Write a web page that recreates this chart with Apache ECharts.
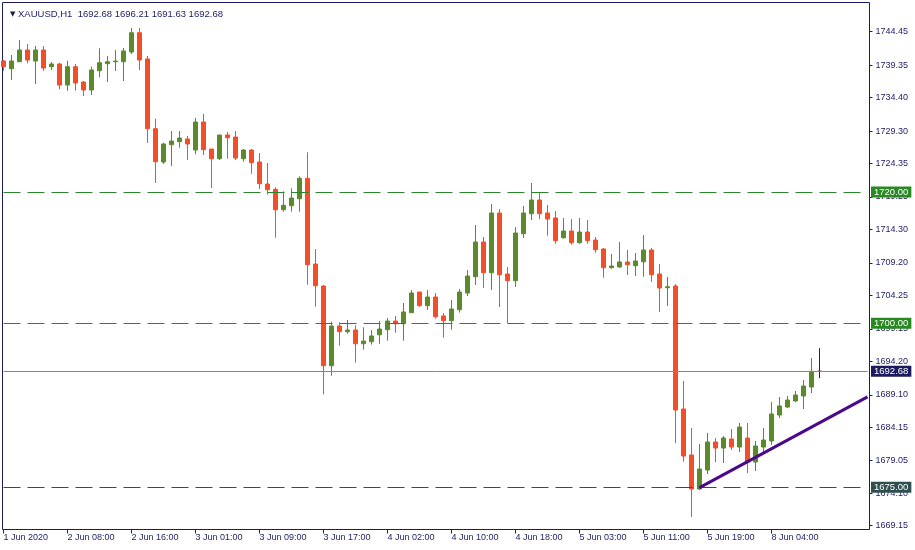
<!DOCTYPE html>
<html><head><meta charset="utf-8">
<script src="https://cdn.jsdelivr.net/npm/echarts@6/dist/echarts.min.js"></script>
<style>html,body{margin:0;padding:0;background:#fff}#c{width:915px;height:550px}</style>
</head><body><div id="c"></div>
<script>
// X axis tick labels (one every 8 hourly bars)
const tickLabels = ['1 Jun 2020','2 Jun 08:00','2 Jun 16:00','3 Jun 01:00','3 Jun 09:00','3 Jun 17:00','4 Jun 02:00','4 Jun 10:00','4 Jun 18:00','5 Jun 03:00','5 Jun 11:00','5 Jun 19:00','8 Jun 04:00'];
const barsPerLabel = 8;
const slotCount = 109; // bar slots incl. chart shift on the right

const opens = [1739.98,1738.81,1739.87,1741.66,1739.98,1741.66,1739.11,1739.52,1736.32,1739.11,
1736.78,1735.56,1738.50,1739.57,1739.87,1739.87,1741.35,1744.29,1740.29,1729.66,
1724.58,1727.22,1727.68,1728.09,1726.41,1730.68,1726.56,1725.09,1728.70,1728.39,
1725.09,1726.41,1724.58,1721.23,1720.42,1717.31,1717.92,1718.99,1722.10,1709.03,
1705.68,1693.53,1699.58,1698.71,1698.97,1696.88,1697.19,1698.25,1699.02,1700.34,
1699.93,1701.61,1704.76,1702.68,1704.00,1701.11,1700.39,1702.07,1704.61,1707.10,
1712.39,1707.71,1716.81,1707.51,1706.49,1713.65,1716.70,1718.79,1716.81,1716.05,
1713.04,1714.06,1712.28,1713.91,1712.69,1711.32,1708.47,1708.58,1709.34,1708.77,
1709.38,1711.17,1707.51,1705.42,1705.68,1686.93,1679.92,1674.73,1677.63,1681.90,
1680.98,1682.35,1681.13,1682.51,1678.85,1681.13,1682.05,1686.01,1687.23,1688.15,
1688.91,1690.28,1692.68];
const closes = [1739.11,1739.98,1741.66,1740.13,1741.66,1738.91,1739.52,1736.32,1739.11,1736.63,
1735.56,1738.61,1739.72,1739.87,1739.98,1741.51,1744.29,1740.13,1729.66,1724.63,
1727.33,1727.78,1728.24,1727.33,1730.68,1726.46,1725.09,1728.70,1728.29,1725.19,
1726.41,1724.48,1721.28,1720.36,1717.31,1717.98,1719.09,1722.10,1708.93,1705.72,
1693.53,1699.58,1698.71,1698.97,1696.88,1697.29,1698.06,1699.12,1700.34,1699.93,
1701.72,1704.61,1702.68,1704.00,1701.00,1700.39,1702.17,1704.76,1707.20,1712.39,
1707.71,1716.81,1707.40,1706.49,1713.76,1716.81,1718.79,1716.70,1715.89,1712.59,
1714.06,1712.28,1713.91,1712.59,1711.21,1708.47,1708.73,1709.34,1708.93,1709.49,
1711.17,1707.40,1705.37,1705.57,1686.78,1679.76,1674.73,1677.78,1681.90,1680.98,
1682.51,1681.13,1684.18,1678.85,1681.29,1682.20,1686.17,1687.39,1688.30,1689.06,
1690.43,1692.68,1692.68];
const lows = [1738.50,1737.08,1739.83,1739.63,1736.47,1738.50,1738.61,1735.67,1735.45,1735.45,
1734.64,1734.80,1737.50,1736.78,1738.46,1736.93,1741.05,1738.61,1727.48,1721.38,
1724.28,1723.97,1726.76,1724.89,1725.76,1725.65,1720.62,1724.89,1725.09,1724.89,
1724.63,1722.80,1720.47,1719.60,1713.04,1717.01,1717.01,1717.01,1705.88,1702.52,
1689.17,1692.00,1696.58,1698.41,1693.99,1695.97,1696.73,1696.88,1697.34,1698.56,
1697.34,1701.61,1702.52,1702.02,1700.69,1697.80,1699.02,1701.61,1704.15,1705.83,
1705.37,1705.07,1702.48,1699.99,1705.53,1713.00,1715.74,1715.89,1713.35,1712.13,
1712.90,1711.98,1712.13,1712.13,1710.76,1706.94,1708.32,1708.47,1707.36,1707.20,
1707.10,1706.29,1701.72,1702.63,1681.74,1678.89,1670.46,1674.58,1677.02,1678.85,
1678.70,1680.68,1680.37,1677.17,1677.48,1680.37,1681.44,1685.56,1687.08,1688.00,
1686.93,1689.37,1691.63];
const highs = [1740.13,1740.90,1743.18,1742.57,1742.27,1742.27,1739.83,1739.72,1740.03,1739.52,
1736.93,1739.11,1741.92,1740.74,1741.66,1741.96,1745.01,1745.01,1740.74,1731.18,
1727.53,1729.31,1729.31,1728.55,1731.29,1731.90,1726.56,1728.70,1729.16,1729.31,
1726.56,1726.56,1725.96,1724.43,1720.73,1720.12,1720.57,1722.40,1726.06,1711.32,
1705.83,1700.24,1700.15,1700.50,1699.69,1699.38,1698.97,1700.34,1700.80,1701.11,
1703.09,1705.07,1704.76,1705.07,1704.61,1701.56,1703.54,1705.22,1708.12,1714.98,
1713.15,1718.18,1717.42,1708.58,1714.67,1717.88,1721.38,1720.01,1718.03,1717.11,
1716.05,1715.89,1716.05,1715.74,1713.15,1711.47,1710.56,1712.39,1711.17,1710.71,
1713.45,1711.47,1709.03,1707.05,1705.98,1691.20,1684.03,1681.59,1683.27,1682.51,
1682.81,1683.88,1684.79,1684.79,1682.05,1684.03,1688.00,1688.76,1688.91,1689.67,
1691.35,1694.70,1696.21];

const priceTicks = [1744.45,1739.35,1734.40,1729.30,1724.35,1719.25,1714.30,1709.20,1704.25,1699.15,1694.20,1689.10,1684.15,1679.05,1674.10,1669.15];
const levelGreen = [1720.00, 1700.00];
const levelSupport = 1675.00;
const bidPrice = 1692.68;
const trendStart = [87, 1674.95];
const trendEnd = [108, 1688.77];
const header = {symbol:'XAUUSD,H1', o:1692.68, h:1696.21, l:1691.63, c:1692.68};

const yMin = 1668.56, yMax = 1748.90;
const navy = '#1c1c66';
const font = '"Liberation Sans", Arial, sans-serif';
const upColor = '#5a8a2b', downColor = '#f24e27';
const lineGreen = '#2a852a', boxGreen = '#2a8a22', slate = '#2f4f4f';

const slots = Array.from({length: slotCount}, (_, i) => String(i));
const candleData = opens.map((o, i) => {
  const item = {value: [o, closes[i], lows[i], highs[i]]};
  if (o === closes[i] && i === opens.length - 1) {
    item.itemStyle = {color:'#800000', color0:'#800000', borderColor:'#800000', borderColor0:'#800000', borderColorDoji:'#800000'};
  }
  return item;
});
const isTick = (i) => i % barsPerLabel === 0 && i / barsPerLabel < tickLabels.length;

function lvlLabel(bg, txt) {
  return {show:true, position:'end', distance:3.5, formatter: txt, color:'#fff', backgroundColor:bg,
    padding:[1,3,0,3], fontSize:9.5, lineHeight:10, fontFamily:font};
}

const chart = echarts.init(document.getElementById('c'), null, {renderer:'canvas'});
chart.setOption({
  animation:false,
  backgroundColor:'#fff',
  title:{left:5, top:4, text:'{t|▼} ' + header.symbol + '  ' + [header.o, header.h, header.l, header.c].map(v=>v.toFixed(2)).join(' '),
    textStyle:{color:navy, fontSize:9.5, fontWeight:'normal', fontFamily:font,
      rich:{t:{fontSize:7, color:'#1a1a40', fontFamily:'"DejaVu Sans", sans-serif'}}}},
  grid:[
    {left:2.5, top:2.5, right:45.5, bottom:20.5, show:true, borderColor:navy, borderWidth:1, backgroundColor:'transparent'},
    {left:3.5, top:2.5, right:47.5, bottom:20.5}
  ],
  xAxis:[
    {gridIndex:0, type:'value', show:false},
    {gridIndex:1, type:'category', boundaryGap:false, data:slots,
     axisLine:{show:false},
     axisTick:{show:true, length:4, interval:(i)=>isTick(i), lineStyle:{color:navy}},
     axisLabel:{interval:(i)=>isTick(i), formatter:(v,i)=>tickLabels[i/barsPerLabel] || '', align:'left', margin:4,
       color:navy, fontSize:9, fontFamily:font},
     splitLine:{show:false}}
  ],
  yAxis:[
    {gridIndex:0, type:'value', show:false},
    {gridIndex:1, type:'value', position:'right', offset:2, min:yMin, max:yMax,
     splitLine:{show:false}, axisLine:{show:false},
     axisTick:{show:true, length:3, customValues:priceTicks, lineStyle:{color:navy}},
     axisLabel:{customValues:priceTicks, margin:6, color:navy, fontSize:9, fontFamily:font, formatter:(v)=>v.toFixed(2)}}
  ],
  series:[
    {type:'candlestick', xAxisIndex:1, yAxisIndex:1, barWidth:4, data:candleData,
     itemStyle:{color:upColor, color0:downColor, borderColor:upColor, borderColor0:downColor, borderWidth:1},
     markLine:{silent:true, symbol:'none', animation:false,
       data:[
         {yAxis:levelGreen[0], lineStyle:{color:lineGreen, type:[17,7], width:1}, label:lvlLabel(boxGreen, levelGreen[0].toFixed(2))},
         {yAxis:levelGreen[1], lineStyle:{color:lineGreen, type:[17,7], width:1}, label:lvlLabel(boxGreen, levelGreen[1].toFixed(2))},
         {yAxis:levelSupport, lineStyle:{color:slate, type:[17,7], width:1}, label:lvlLabel(slate, levelSupport.toFixed(2))},
         {yAxis:bidPrice, lineStyle:{color:'#7a8898', type:'solid', width:1}, label:lvlLabel('#1b1b5e', bidPrice.toFixed(2))}
       ]}},
    {type:'line', xAxisIndex:1, yAxisIndex:1, data:[trendStart, trendEnd], symbol:'none', clip:true, z:5,
     lineStyle:{color:'#4b0a8c', width:3}}
  ]
});
</script></body></html>
